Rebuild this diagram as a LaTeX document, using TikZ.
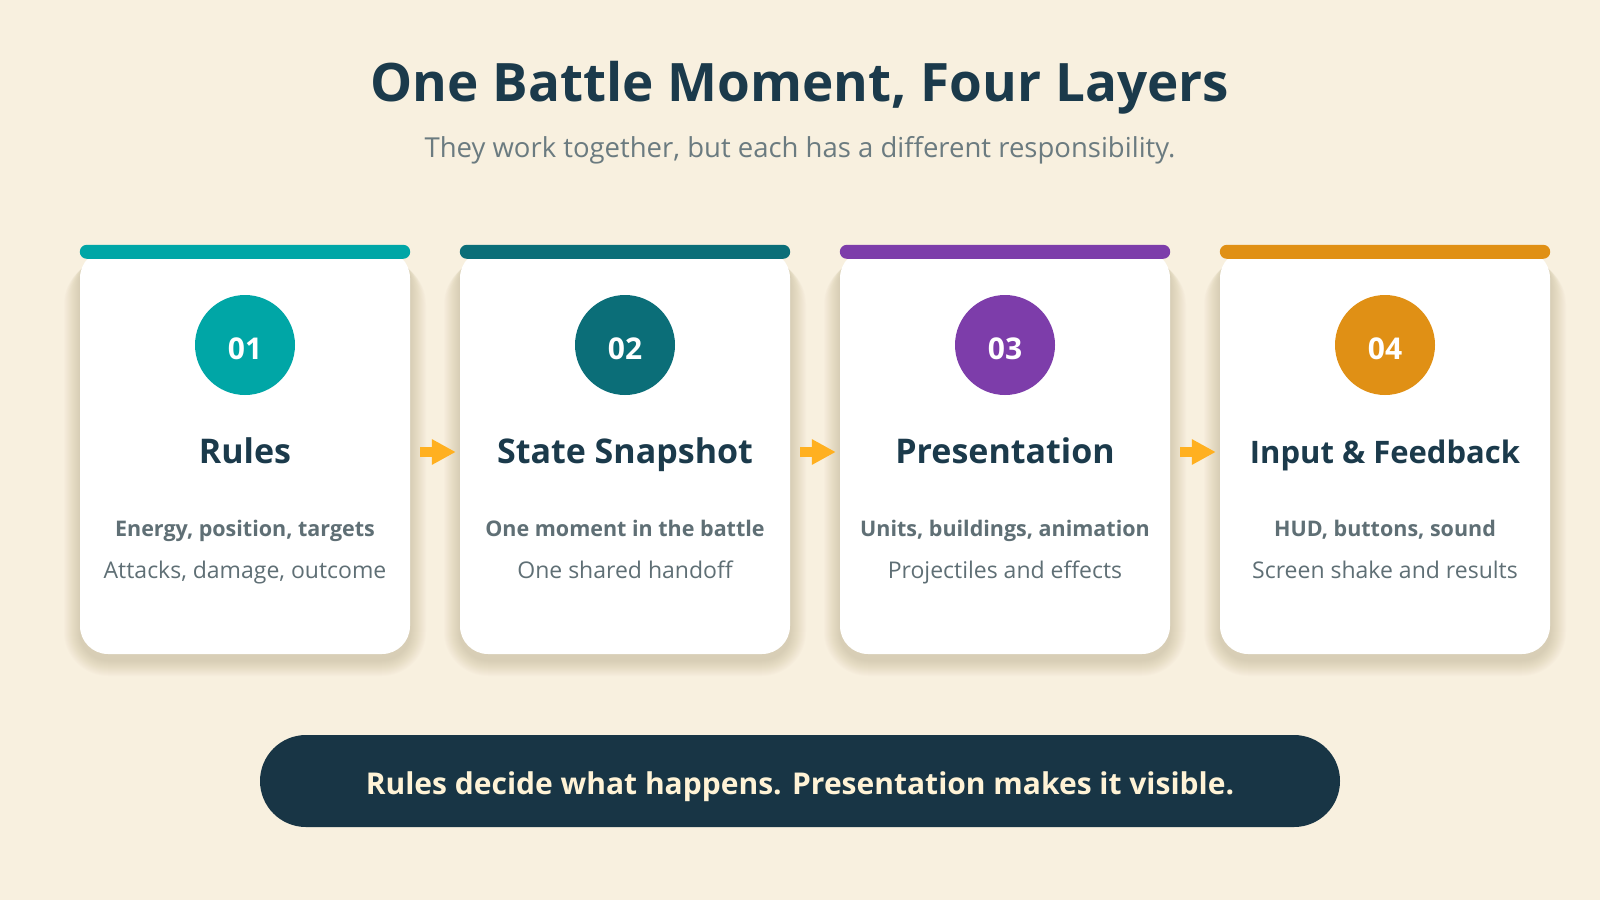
\documentclass[tikz,border=0pt]{standalone}
\usepackage{fontspec}
\setmainfont{Open Sans}
\usetikzlibrary{arrows.meta,calc}
\definecolor{bgc}{HTML}{F8F0DF}
\definecolor{navy}{HTML}{1B3A4B}
\definecolor{bannerc}{HTML}{183545}
\definecolor{cream}{HTML}{FFF3D6}
\definecolor{subg}{HTML}{6B7B80}
\definecolor{txtg}{HTML}{5F6F75}
\definecolor{shc}{HTML}{A89670}
\definecolor{cA}{HTML}{00A6A6}
\definecolor{cB}{HTML}{0B6E78}
\definecolor{cC}{HTML}{7D3DAA}
\definecolor{cD}{HTML}{E09015}
\definecolor{arrc}{HTML}{FFB020}
\tikzset{
  card/.style={fill=white, rounded corners=28pt, minimum width=330pt, minimum height=404pt, inner sep=0pt},
  numc/.style={circle, minimum size=100pt, inner sep=0pt},
  numt/.style={text=white, inner sep=0pt, font=\fontsize{30}{36}\selectfont\bfseries},
  ctitle/.style={text=navy, anchor=base, inner sep=0pt, font=\fontsize{34}{40}\selectfont\bfseries},
  cl1/.style={text=txtg, anchor=base, inner sep=0pt, font=\fontsize{21.5}{26}\selectfont\bfseries},
  cl2/.style={text=txtg, anchor=base, inner sep=0pt, font=\fontsize{23}{28}\selectfont},
  flow/.style={draw=arrc, line width=10pt, -{Triangle[length=24pt,width=24pt]}, shorten <=10pt, shorten >=4pt},
}
\begin{document}
\begin{tikzpicture}[x=1pt,y=-1pt]
\fill[bgc] (0,0) rectangle (1600,900);
\useasboundingbox (0,0) rectangle (1600,900);
\node[text=navy, anchor=base, font=\fontsize{53}{62}\selectfont\bfseries] (title) at (800,101) {One Battle Moment, Four Layers};
\node[text=subg, anchor=base, font=\fontsize{27.5}{32}\selectfont] (sub) at (800,157) {They work together, but each has a different responsibility.};
\foreach \i/\x/\col/\num/\t/\fs/\la/\lb in {
  1/245/cA/01/Rules/34/{Energy, position, targets}/{Attacks, damage, outcome},
  2/625/cB/02/State Snapshot/34/{One moment in the battle}/{One shared handoff},
  3/1005/cC/03/Presentation/34/{Units, buildings, animation}/{Projectiles and effects},
  4/1385/cD/04/Input \& Feedback/31/{HUD, buttons, sound}/{Screen shake and results}}{
  \foreach \k in {1,...,16}{
    \fill[shc, opacity=0.022, rounded corners={28pt+\k pt}]
      ({\x-165-\k}, {250+4+0.4*\k}) rectangle ({\x+165+\k}, {654+6+\k});
  }
  \node[card] (c\i) at (\x,452) {};
  \fill[\col, rounded corners=7pt] ($(c\i.north west)+(0,-5)$) rectangle ($(c\i.north east)+(0,9)$);
  \node[numc, fill=\col] (n\i) at (\x,345) {};
  \node[numt] (m\i) at (\x,349) {\num};
  \node[ctitle, font=\fontsize{\fs}{40}\selectfont\bfseries] (t\i) at (\x,463) {\t};
  \node[cl1] (a\i) at (\x,536) {\la};
  \node[cl2] (b\i) at (\x,578) {\lb};
}
\draw[flow] (c1.east) -- (c2.west);
\draw[flow] (c2.east) -- (c3.west);
\draw[flow] (c3.east) -- (c4.west);
\node[fill=bannerc, rounded corners=46pt, minimum width=1080pt, minimum height=92pt] (banner) at (800,781) {};
\node[text=cream, anchor=base, inner sep=0pt, font=\fontsize{30}{36}\selectfont\bfseries] (btext) at (800,794) {Rules decide what happens. Presentation makes it visible.};
\end{tikzpicture}
\end{document}
